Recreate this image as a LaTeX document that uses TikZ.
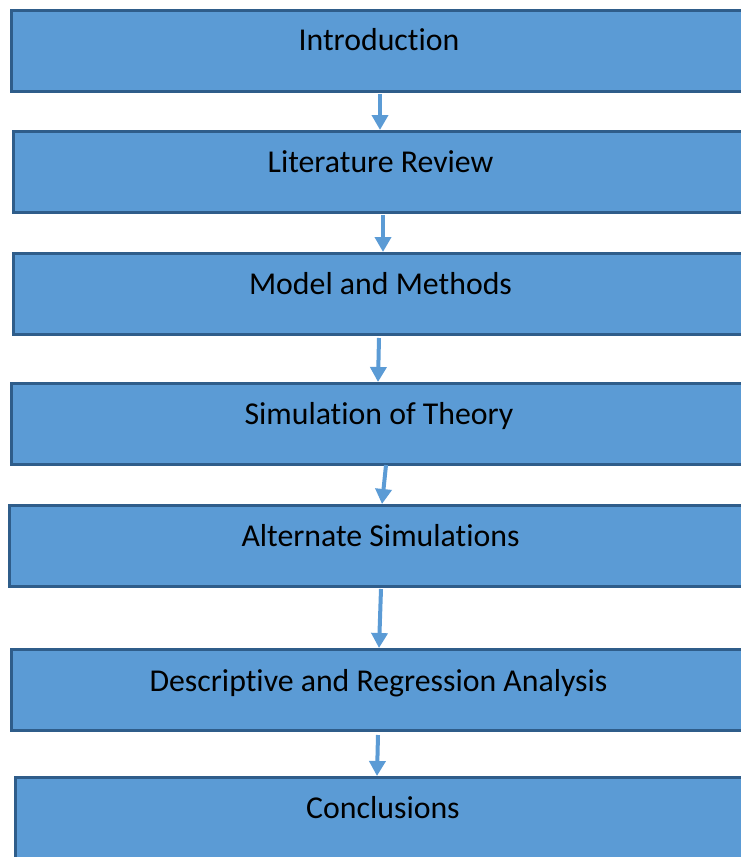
\documentclass[tikz,border=0pt]{standalone}
\usepackage{fontspec}
\setmainfont[RawFeature={-liga;-clig;-calt;-dlig}]{Carlito}
\usetikzlibrary{arrows.meta,calc}
\definecolor{boxfill}{HTML}{5B9BD5}
\definecolor{boxline}{HTML}{2F5D8A}
\definecolor{arrowcol}{HTML}{5B9BD5}
\tikzset{
  stage/.style={draw=boxline, fill=boxfill, line width=3bp, rectangle,
    anchor=north west, minimum width=760bp, minimum height=81bp,
    inner sep=0pt, outer sep=0pt},
  caption/.style={anchor=base, inner sep=0pt,
    font=\fontsize{31.8bp}{38bp}\selectfont, text=black},
  flow/.style={draw=arrowcol, line width=4bp,
    -{Triangle[width=16bp,length=15bp]}}
}
\begin{document}
\begin{tikzpicture}[x=1bp,y=-1bp]
  \useasboundingbox (0,0) rectangle (741,857);
  \begin{scope}
    \clip (0,0) rectangle (741,857);
    % stage boxes (outer edge = node path + 1.5bp)
    \node[stage] (b1) at (11.5,10.5) {};
    \node[stage] (b2) at (13.5,131.5) {};
    \node[stage] (b3) at (13.5,253.5) {};
    \node[stage] (b4) at (11.5,383.5) {};
    \node[stage] (b5) at (9.5,505.5) {};
    \node[stage] (b6) at (11.5,649.5) {};
    \node[stage] (b7) at (15.5,777.5) {};
  \end{scope}
  % stage titles
  \node[caption] (t1) at (379,50)  {Introduction};
  \node[caption] (t2) at (380.5,172) {Literature Review};
  \node[caption] (t3) at (380.5,294) {Model and Methods};
  \node[caption] (t4) at (379,424) {Simulation of Theory};
  \node[caption] (t5) at (380.5,546) {Alternate Simulations};
  \node[caption] (t6) at (378.5,691) {Descriptive and Regression Analysis};
  \node[caption] (t7) at (383,818) {Conclusions};
  % connectors between stages
  \draw[flow] ($(b1.south west)+(368.5,2.5)$) -- ($(b2.north west)+(366.5,-1.5)$);
  \draw[flow] ($(b2.south west)+(369.5,2.5)$) -- ($(b3.north west)+(369.5,-1.5)$);
  \draw[flow] ($(b3.south west)+(365.5,3.5)$) -- ($(b4.north west)+(366.5,-1.5)$);
  \draw[flow] ($(b4.south west)+(374.5,0.5)$) -- ($(b5.north west)+(372.5,-1.5)$);
  \draw[flow] ($(b5.south west)+(371.5,2.5)$) -- ($(b6.north west)+(367.5,-1.5)$);
  \draw[flow] ($(b6.south west)+(366.5,4.5)$) -- ($(b7.north west)+(361.5,-1.5)$);
\end{tikzpicture}
\end{document}
